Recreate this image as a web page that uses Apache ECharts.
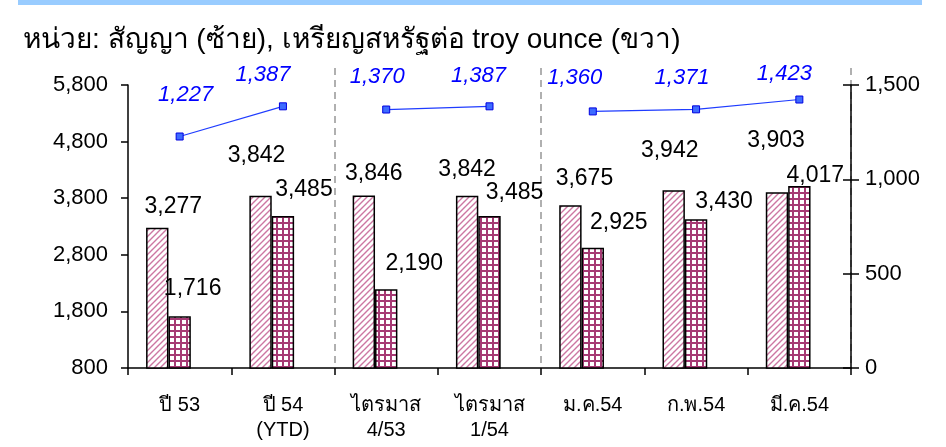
<!DOCTYPE html>
<html>
<head>
<meta charset="utf-8">
<script src="https://cdn.jsdelivr.net/npm/echarts@6/dist/echarts.min.js"></script>
<style>
  html, body { margin: 0; padding: 0; background: #fff; }
  #chart { width: 946px; height: 447px; }
</style>
</head>
<body>
<div id="chart"></div>
<script>
// data
const categories = ['ปี 53', 'ปี 54\n(YTD)', 'ไตรมาส\n4/53', 'ไตรมาส\n1/54', 'ม.ค.54', 'ก.พ.54', 'มี.ค.54'];
const contractsA = [3277, 3842, 3846, 3842, 3675, 3942, 3903];
const contractsB = [1716, 3485, 2190, 3485, 2925, 3430, 4017];
const goldPrice = [1227, 1387, 1370, 1387, 1360, 1371, 1423];
// the price line is broken at the dashed separators
const lineSegments = [[0, 1], [2, 3], [4, 6]];
const separatorsBefore = [2, 4];

// hand-placed data labels in the original (dx, height above the point)
const labelShiftA = [[16, 21], [-4, 40], [10, 22], [0, 26], [14, 27], [-4, 40], [-1, 52]];
const labelShiftB = [[13, 27], [21, 26], [28, 26], [25, 23], [26, 25], [28, 17], [16, 10]];
const labelShiftLine = [[6, 41], [-20, 30], [-9, 32], [-11, 29], [-18, 33], [-14, 30], [-15, 25]];

const fontFam = '"Liberation Sans", Arial, sans-serif';
const fmt = v => Number(v).toLocaleString('en-US');

// hatch patterns like the excel fills
function stripePattern() {
    const c = document.createElement('canvas');
    c.width = 6; c.height = 6;
    const g = c.getContext('2d');
    g.fillStyle = '#fff';
    g.fillRect(0, 0, 6, 6);
    g.strokeStyle = '#cc77a2';
    g.lineWidth = 1.4;
    g.beginPath();
    g.moveTo(-1, 7); g.lineTo(7, -1);
    g.moveTo(-1, 1); g.lineTo(1, -1);
    g.moveTo(5, 7); g.lineTo(7, 5);
    g.stroke();
    return c;
}
function gridPattern() {
    const c = document.createElement('canvas');
    c.width = 6; c.height = 6;
    const g = c.getContext('2d');
    g.fillStyle = '#fff';
    g.fillRect(0, 0, 6, 6);
    g.fillStyle = '#a63a74';
    g.fillRect(0, 0, 6, 2);
    g.fillRect(0, 0, 2, 6);
    return c;
}

const shifted = (values, shifts, half) => values.map((v, i) => ({
    value: v,
    label: { offset: [shifts[i][0], -(shifts[i][1] - half)] }
}));

const chart = echarts.init(document.getElementById('chart'));

const lineSeries = lineSegments.map(seg => ({
    type: 'line',
    xAxisIndex: 0,
    yAxisIndex: 1,
    data: shifted(goldPrice, labelShiftLine, 14).map((d, i) => (i >= seg[0] && i <= seg[1]) ? d : '-'),
    symbol: 'rect',
    symbolSize: 7,
    lineStyle: { color: '#1f3cff', width: 1.2 },
    itemStyle: { color: '#3d6bff', borderColor: '#0000e0', borderWidth: 1 },
    label: {
        show: true,
        position: 'top',
        distance: 0,
        formatter: p => fmt(p.value),
        color: '#0000ff',
        fontStyle: 'italic',
        fontSize: 22,
        fontFamily: fontFam
    },
    z: 5
}));

const barLabel = {
    show: true,
    position: 'top',
    distance: 0,
    formatter: p => fmt(p.value),
    color: '#000',
    fontSize: 23
};

const option = {
    animation: false,
    backgroundColor: '#fff',
    textStyle: { fontFamily: fontFam },
    title: {
        text: 'หน่วย: สัญญา (ซ้าย), เหรียญสหรัฐต่อ troy ounce (ขวา)',
        left: 18,
        top: 21,
        textStyle: { fontSize: 28, fontWeight: 'normal', color: '#000', fontFamily: fontFam }
    },
    graphic: [{
        type: 'rect',
        shape: { x: 18, y: 0, width: 904, height: 5 },
        style: { fill: '#99ccff' }
    }],
    grid: [
        { left: 128, right: 95, top: 85, bottom: 79 },
        { left: 128, right: 95, top: 68, bottom: 79 }
    ],
    xAxis: [{
        type: 'category',
        data: categories,
        gridIndex: 0,
        axisLine: { lineStyle: { color: '#000', width: 1.5 } },
        axisTick: { show: true, length: 7, lineStyle: { color: '#000', width: 1.5 } },
        axisLabel: { color: '#000', fontSize: 20, margin: 25, lineHeight: 25 },
        splitLine: { show: false }
    }, {
        type: 'category',
        data: categories,
        gridIndex: 1,
        axisLine: { show: false },
        axisTick: { show: false },
        axisLabel: { show: false },
        splitLine: {
            show: true,
            interval: (index) => separatorsBefore.includes(index),
            lineStyle: { color: '#b0b0b0', type: [7, 5], width: 2 }
        }
    }],
    yAxis: [{
        type: 'value',
        gridIndex: 0,
        min: 800,
        max: 5800,
        interval: 1000,
        axisLine: { show: true, lineStyle: { color: '#000', width: 1.5 } },
        axisTick: { show: true, length: 7, lineStyle: { color: '#000', width: 1.5 } },
        axisLabel: { color: '#000', fontSize: 22, margin: 20, formatter: fmt },
        splitLine: { show: false }
    }, {
        type: 'value',
        gridIndex: 0,
        position: 'right',
        min: 0,
        max: 1500,
        interval: 500,
        axisLine: { show: true, lineStyle: { color: '#000', width: 1.5 } },
        axisTick: { show: true, length: 8, lineStyle: { color: '#000', width: 1.5 } },
        axisLabel: { color: '#000', fontSize: 22, margin: 14, formatter: fmt },
        splitLine: { show: false }
    }, {
        // inner half of the crossing ticks on the right axis
        type: 'value',
        gridIndex: 0,
        position: 'right',
        min: 0,
        max: 1500,
        interval: 500,
        axisLine: { show: false },
        axisTick: { show: true, inside: true, length: 8, lineStyle: { color: '#000', width: 1.5 } },
        axisLabel: { show: false },
        splitLine: { show: false }
    }, {
        type: 'value',
        gridIndex: 1,
        show: false,
        splitLine: { show: false }
    }],
    series: [{
        name: 'A',
        type: 'bar',
        xAxisIndex: 0,
        yAxisIndex: 0,
        data: shifted(contractsA, labelShiftA, 11.5),
        barGap: '0%',
        barCategoryGap: '35%',
        itemStyle: {
            color: { image: stripePattern(), repeat: 'repeat' },
            borderColor: '#000',
            borderWidth: 1.5
        },
        label: barLabel
    }, {
        name: 'B',
        type: 'bar',
        xAxisIndex: 0,
        yAxisIndex: 0,
        data: shifted(contractsB, labelShiftB, 11.5),
        barGap: '0%',
        barCategoryGap: '35%',
        itemStyle: {
            color: { image: gridPattern(), repeat: 'repeat' },
            borderColor: '#000',
            borderWidth: 1.5
        },
        label: barLabel
    }, {
        // empty slot that excel kept beside the two bars
        name: 'empty',
        type: 'bar',
        xAxisIndex: 0,
        yAxisIndex: 0,
        data: categories.map(() => '-'),
        barGap: '0%',
        barCategoryGap: '35%'
    }].concat(lineSeries)
};

chart.setOption(option);
</script>
</body>
</html>
